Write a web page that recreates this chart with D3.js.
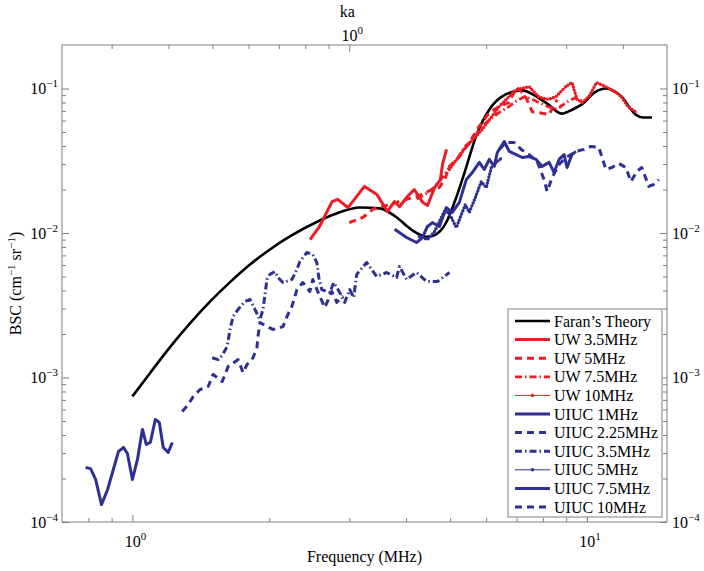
<!DOCTYPE html>
<html>
<head>
<meta charset="utf-8">
<script src="https://cdn.jsdelivr.net/npm/d3@7"></script>
<style>
  body { margin: 0; background: #fff; }
  text { font-family: "Liberation Serif", "DejaVu Serif", serif; fill: #000; }
</style>
</head>
<body>
<svg id="chart" width="704" height="571"></svg>
<script>
// values: [frequency MHz, BSC cm^-1 sr^-1]
var faranTheory = [[1.0,0.00074],[1.095,0.00108],[1.211,0.00163],[1.34,0.00238],[1.483,0.00336],
  [1.64,0.00457],[1.814,0.00605],[2.007,0.00769],[2.22,0.00946],[2.584,0.0122],[2.858,0.0139],
  [3.16,0.015],[3.5,0.0148],[3.79,0.013],[4.1,0.0106],[4.44,0.0094],[4.6,0.0096],
  [4.9,0.0118],[5.17,0.018],[5.43,0.0288],[5.7,0.0466],[6.1,0.0716],[6.5,0.088],[7.2,0.097],
  [7.7,0.089],[8.2,0.078],[8.8,0.067],[9.3,0.0716],[9.76,0.078],[10.4,0.094],[11.0,0.1],
  [11.9,0.088],[12.8,0.066],[13.3,0.063],[13.9,0.063]];

var uw35 = [[2.46,0.009],[2.58,0.0111],[2.75,0.0165],[2.83,0.0171],[2.98,0.015],[3.24,0.021],
  [3.45,0.0185],[3.64,0.0141],[3.77,0.0165],[3.87,0.0152],[4.01,0.0176],[4.17,0.02],[4.35,0.0163],
  [4.46,0.0155],[4.62,0.0206],[4.76,0.0234],[4.81,0.0298],[4.91,0.0379]];

var uw5 = [[3.0,0.0118],[3.21,0.0128],[3.38,0.0146],[3.68,0.0157],[3.81,0.0163],[4.22,0.0179],
  [4.57,0.02],[4.73,0.0206],[4.86,0.0234],[4.98,0.0288],[5.24,0.0338],[5.51,0.0423],[5.79,0.0545],
  [6.1,0.0682],[6.41,0.075],[6.74,0.08],[7.0,0.1016],[7.29,0.091],[7.58,0.069],[7.85,0.068],
  [8.25,0.066],[8.6,0.084]];

var uw75 = [[4.22,0.0172],[4.4,0.0185],[4.6,0.0205],[4.8,0.024],[5.0,0.029],[5.2,0.033],[5.4,0.04],
  [5.6,0.044],[5.8,0.052],[6.0,0.058],[6.2,0.063],[6.4,0.068],[6.7,0.074],[7.0,0.082],[7.3,0.088],
  [7.6,0.084],[7.9,0.079],[8.2,0.075],[8.6,0.072],[9.0,0.08],[9.4,0.086],[9.8,0.082]];

var uw10 = [[4.98,0.0275],[5.37,0.038],[5.88,0.052],[6.41,0.075],[6.98,0.098],[7.46,0.103],
  [7.85,0.087],[8.25,0.084],[8.55,0.088],[8.98,0.103],[9.27,0.11],[9.51,0.084],[9.76,0.08],
  [10.1,0.088],[10.5,0.11],[11.0,0.103],[11.6,0.094],[11.9,0.088],[12.3,0.075],[12.9,0.068]];

var uiuc1 = [[0.789,0.000238],[0.809,0.000234],[0.83,0.000197],[0.855,0.000132],[0.882,0.000168],
  [0.904,0.00022],[0.932,0.000308],[0.956,0.000328],[0.975,0.000298],[1.0,0.000197],[1.026,0.000271],
  [1.052,0.000437],[1.073,0.000344],[1.095,0.000355],[1.123,0.000512],[1.146,0.000488],
  [1.169,0.000328],[1.199,0.000303],[1.224,0.000355]];

var uiuc225 = [[1.287,0.000582],[1.327,0.000651],[1.361,0.000739],[1.409,0.000826],[1.468,0.000867],
  [1.505,0.00105],[1.576,0.000938],[1.624,0.00119],[1.708,0.00133],[1.752,0.00108],[1.787,0.00123],
  [1.842,0.00137],[1.879,0.00161],[1.889,0.00192],[1.908,0.0024],[1.977,0.00225],[2.038,0.00215],
  [2.144,0.00225],[2.198,0.00273],[2.243,0.0031],[2.301,0.00406],[2.371,0.00454],[2.457,0.00394],
  [2.494,0.00477],[2.584,0.00364],[2.65,0.00305],[2.746,0.00394],[2.816,0.00331],[2.902,0.00369]];

var uiuc35 = [[1.498,0.00137],[1.544,0.00133],[1.576,0.00142],[1.616,0.00164],[1.64,0.00215],
  [1.665,0.00264],[1.708,0.00296],[1.769,0.00336],[1.814,0.00347],[1.86,0.00296],[1.908,0.00252],
  [1.938,0.00296],[1.977,0.00477],[2.007,0.00517],[2.059,0.00541],[2.09,0.00492],[2.144,0.00454],
  [2.243,0.00477],[2.301,0.00559],[2.336,0.00635],[2.42,0.00733],[2.494,0.00709],[2.545,0.00625],
  [2.571,0.00492],[2.61,0.00406],[2.718,0.00388],[2.773,0.00454],[2.858,0.00388],[2.931,0.00331],
  [3.007,0.00406],[3.068,0.00358],[3.115,0.00517],[3.276,0.00625],[3.446,0.005],[3.624,0.00533],
  [3.812,0.00492],[3.87,0.00586],[4.01,0.00477],[4.217,0.00533],[4.436,0.00462],[4.69,0.00462],
  [4.983,0.00533]];

var uiuc5 = [[4.281,0.00946],[4.458,0.00902],[4.619,0.0102],[4.735,0.012],[4.881,0.0146],
  [5.031,0.0128],[5.159,0.0109],[5.291,0.0134],[5.4,0.0157],[5.51,0.0139],[5.68,0.0176],
  [5.855,0.0227],[6.005,0.0206],[6.159,0.0284],[6.349,0.0313],[6.511,0.0333]];

var uiuc75 = [[3.775,0.0106],[4.01,0.00931],[4.217,0.00859],[4.346,0.00931],[4.458,0.0111],
  [4.572,0.0118],[4.735,0.0111],[4.906,0.015],[5.056,0.0139],[5.238,0.0163],[5.427,0.0234],
  [5.594,0.0262],[5.797,0.0308],[5.944,0.0275],[6.097,0.0323],[6.254,0.0289],[6.349,0.0361],
  [6.577,0.043],[6.745,0.0367],[6.988,0.0349],[7.203,0.0333],[7.462,0.0338],[7.73,0.0323],
  [7.968,0.0289],[8.255,0.0308],[8.467,0.0262],[8.682,0.0323],[8.906,0.0349],[9.04,0.0284],
  [9.271,0.0349],[9.46,0.0367]];

var uiuc10 = [[6.412,0.0379],[6.644,0.0423],[6.918,0.0423],[7.167,0.0379],[7.462,0.0349],
  [7.769,0.0313],[8.049,0.0234],[8.172,0.0194],[8.381,0.0242],[8.682,0.0298],[8.995,0.0333],
  [9.46,0.0367],[9.85,0.0379],[10.2,0.0397],[10.62,0.0391],[11.01,0.0275],[11.35,0.0284],
  [11.75,0.0303],[12.18,0.0284],[12.49,0.0227],[12.88,0.0267],[13.2,0.0284],[13.68,0.021],
  [14.03,0.0217],[14.39,0.0234]];

var legendLabels = ["Faran\u2019s Theory", "UW 3.5MHz", "UW 5MHz", "UW 7.5MHz", "UW 10MHz",
  "UIUC 1MHz", "UIUC 2.25MHz", "UIUC 3.5MHz", "UIUC 5MHz", "UIUC 7.5MHz", "UIUC 10MHz"];

var freqMajor = [1, 10];
var freqMinor = [0.8, 0.9, 2, 3, 4, 5, 6, 7, 8, 9];
var kaMajor = [1];
var kaMinor = [0.3, 0.4, 0.5, 0.6, 0.7, 0.8, 0.9, 2, 3, 4];
var bscMajor = [1e-4, 1e-3, 1e-2, 1e-1];
var bscMinor = [];
[1e-4, 1e-3, 1e-2, 1e-1].forEach(function(d) {
  for (var k = 2; k <= 9; k++) if (d * k < 0.2) bscMinor.push(d * k);
});

var RED = "#ec1c24", BLUE = "#2e3192";
var series = [
  { data: faranTheory, color: "#000", width: 2.6, dash: null, curve: d3.curveMonotoneX },
  { data: uw35, color: RED, width: 3, dash: null },
  { data: uw5, color: RED, width: 3, dash: "7,5" },
  { data: uw75, color: RED, width: 2.8, dash: "7,3,1.5,3" },
  { data: uw10, color: RED, width: 1, dash: null, dots: true },
  { data: uiuc1, color: BLUE, width: 3, dash: null },
  { data: uiuc225, color: BLUE, width: 3, dash: "7,5" },
  { data: uiuc35, color: BLUE, width: 3, dash: "7,3,1.5,3" },
  { data: uiuc5, color: BLUE, width: 1, dash: null, dots: true },
  { data: uiuc75, color: BLUE, width: 3, dash: null },
  { data: uiuc10, color: BLUE, width: 3, dash: "7,5" }
];

var mLeft = 62, mRight = 667, mTop = 45, mBottom = 522;
var svg = d3.select("#chart");

var x = d3.scaleLog().domain([0.7, 15]).range([mLeft, mRight]);
var ka = d3.scaleLog().domain([0.7 / 3, 15 / 3]).range([mLeft, mRight]);
var y = d3.scaleLog().domain([1e-4, 0.2]).range([mBottom, mTop]);

svg.append("clipPath").attr("id", "clip")
  .append("rect").attr("x", mLeft).attr("y", mTop).attr("width", mRight - mLeft).attr("height", mBottom - mTop);

// plot lines
var plot = svg.append("g").attr("clip-path", "url(#clip)");
series.forEach(function(s) {
  var line = d3.line().x(function(d) { return x(d[0]); }).y(function(d) { return y(d[1]); })
    .curve(s.curve || d3.curveLinear);
  plot.append("path").attr("d", line(s.data))
    .attr("fill", "none").attr("stroke", s.color).attr("stroke-width", s.width)
    .attr("stroke-linejoin", "round")
    .attr("stroke-dasharray", s.dash);
  if (s.dots) {
    // dense point markers along the trace
    plot.append("path").attr("d", line(s.data))
      .attr("fill", "none").attr("stroke", s.color).attr("stroke-width", 3.4)
      .attr("stroke-linecap", "round").attr("stroke-dasharray", "0,3.2");
  }
});

// axes, ticks pointing inward
function noDomain(g) { g.select(".domain").remove(); }
var axisColor = "#7f7f7f";
function ticks(axis, vals, size, tr) {
  svg.append("g").attr("transform", tr)
    .call(axis.tickValues(vals).tickSize(size).tickFormat(""))
    .call(noDomain)
    .selectAll("line").attr("stroke", axisColor);
}
ticks(d3.axisBottom(x), freqMajor, -7, "translate(0," + mBottom + ")");
ticks(d3.axisBottom(x), freqMinor, -4, "translate(0," + mBottom + ")");
ticks(d3.axisTop(ka), kaMajor, -7, "translate(0," + mTop + ")");
ticks(d3.axisTop(ka), kaMinor, -4, "translate(0," + mTop + ")");
ticks(d3.axisLeft(y), bscMajor, -7, "translate(" + mLeft + ",0)");
ticks(d3.axisLeft(y), bscMinor, -4, "translate(" + mLeft + ",0)");
ticks(d3.axisRight(y), bscMajor, -7, "translate(" + mRight + ",0)");
ticks(d3.axisRight(y), bscMinor, -4, "translate(" + mRight + ",0)");

svg.append("rect").attr("x", mLeft).attr("y", mTop).attr("width", mRight - mLeft).attr("height", mBottom - mTop)
  .attr("fill", "none").attr("stroke", axisColor).attr("stroke-width", 1);

function powLabel(px, py, exp, anchor) {
  var t = svg.append("text").attr("x", px).attr("y", py).attr("text-anchor", anchor)
    .style("font-size", "16px");
  t.append("tspan").text("10");
  t.append("tspan").attr("dy", -7).style("font-size", "11px").text(exp);
  return t;
}
freqMajor.forEach(function(d) {
  powLabel(x(d) + 3, mBottom + 25, String(Math.round(Math.log10(d))), "middle");
});
kaMajor.forEach(function(d) {
  powLabel(ka(d) + 3, mTop - 4, String(Math.round(Math.log10(d))), "middle");
});
bscMajor.forEach(function(d) {
  var e = "\u2212" + Math.round(-Math.log10(d));
  powLabel(mLeft - 4, y(d) + 6, e, "end");
  powLabel(mRight + 5, y(d) + 6, e, "start");
});

svg.append("text").attr("x", (mLeft + mRight) / 2).attr("y", 562).attr("text-anchor", "middle")
  .style("font-size", "16px").text("Frequency (MHz)");
svg.append("text").attr("x", ka(1) - 2).attr("y", 17).attr("text-anchor", "middle")
  .style("font-size", "16px").text("ka");

var yl = svg.append("text").attr("transform", "translate(21," + ((mTop + mBottom) / 2) + ") rotate(-90)")
  .attr("text-anchor", "middle").style("font-size", "16px");
yl.append("tspan").text("BSC (cm");
yl.append("tspan").attr("dy", -6).style("font-size", "11px").text("\u22121");
yl.append("tspan").attr("dy", 6).text(" sr");
yl.append("tspan").attr("dy", -6).style("font-size", "11px").text("\u22121");
yl.append("tspan").attr("dy", 6).text(")");

// legend
var lg = svg.append("g");
lg.append("rect").attr("x", 508).attr("y", 309).attr("width", 154).attr("height", 208)
  .attr("fill", "#fff").attr("stroke", axisColor).attr("stroke-width", 1);
series.forEach(function(s, i) {
  var cy = 321 + i * 18.6;
  lg.append("line").attr("x1", 515).attr("x2", 550).attr("y1", cy).attr("y2", cy)
    .attr("stroke", s.color).attr("stroke-width", s.width).attr("stroke-dasharray", s.dash);
  if (s.dots) {
    lg.append("circle").attr("cx", 532.5).attr("cy", cy).attr("r", 1.8).attr("fill", s.color);
  }
  lg.append("text").attr("x", 554).attr("y", cy + 5.5).style("font-size", "16px").text(legendLabels[i]);
});
</script>
</body>
</html>
